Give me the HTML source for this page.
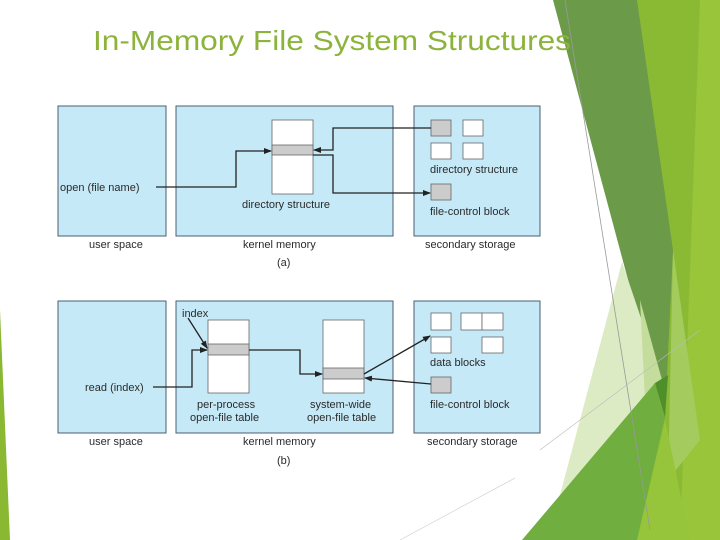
<!DOCTYPE html>
<html><head><meta charset="utf-8"><style>
html,body{margin:0;padding:0;background:#fff;width:720px;height:540px;overflow:hidden}
svg{display:block}
text{font-family:"Liberation Sans",sans-serif;fill:#2a2a2a}
</style></head><body>
<svg width="720" height="540" viewBox="0 0 720 540" xmlns="http://www.w3.org/2000/svg">
<defs><marker id="ah" markerWidth="8" markerHeight="8" refX="7" refY="4" orient="auto" markerUnits="userSpaceOnUse"><path d="M0,1 L8,4 L0,7 z" fill="#222"/></marker></defs>
<!-- background shapes -->
<polygon points="0,310 10,540 0,540" fill="#8ab833"/>
<polygon points="630,0 720,0 720,540 630,540" fill="#8aba34"/>
<polygon points="700,0 720,0 720,540 680,540" fill="#98c53a"/>
<polygon points="673,250 700,440 668,480" fill="#a3cb5e"/>
<polygon points="553,0 637,0 673,250 665,417 620,250" fill="#6b9a48"/>
<polygon points="622,262 662,380 556,510" fill="#dcebc4"/>
<polygon points="640,300 662,380 645,400" fill="#c5dd9c"/>
<polygon points="522,540 655,383 665,417 637,540" fill="#6fae3f"/>
<polygon points="655,383 668,375 665,417" fill="#4f8f2a"/>
<polygon points="637,540 665,420 690,540" fill="#96c43a"/>
<line x1="565" y1="0" x2="650" y2="530" stroke="#999" stroke-width="0.8"/>
<line x1="540" y1="450" x2="700" y2="330" stroke="#bbb" stroke-width="0.6"/>
<line x1="400" y1="540" x2="515" y2="478" stroke="#ccc" stroke-width="0.6"/>
<text x="93" y="50" font-size="28" textLength="478" lengthAdjust="spacingAndGlyphs" style="fill:#8cb43c">In-Memory File System Structures</text>
<g stroke="#4a6070" stroke-width="1" fill="#c6e9f8">
<rect x="58" y="106" width="108" height="130"/><rect x="176" y="106" width="217" height="130"/><rect x="414" y="106" width="126" height="130"/>
<rect x="58" y="301" width="108" height="132"/><rect x="176" y="301" width="217" height="132"/><rect x="414" y="301" width="126" height="132"/>
</g>
<g stroke="#666" stroke-width="0.8">
<rect x="272" y="120" width="41" height="74" fill="#fff"/><rect x="272" y="145" width="41" height="10" fill="#ccc"/>
<rect x="431" y="120" width="20" height="16" fill="#ccc"/><rect x="463" y="120" width="20" height="16" fill="#fff"/>
<rect x="431" y="143" width="20" height="16" fill="#fff"/><rect x="463" y="143" width="20" height="16" fill="#fff"/>
<rect x="431" y="184" width="20" height="16" fill="#ccc"/>
<rect x="208" y="320" width="41" height="73" fill="#fff"/><rect x="208" y="344" width="41" height="11" fill="#ccc"/>
<rect x="323" y="320" width="41" height="73" fill="#fff"/><rect x="323" y="368" width="41" height="11" fill="#ccc"/>
<rect x="431" y="313" width="20" height="17" fill="#fff"/><rect x="461" y="313" width="21" height="17" fill="#fff"/><rect x="482" y="313" width="21" height="17" fill="#fff"/>
<rect x="431" y="337" width="20" height="16" fill="#fff"/><rect x="482" y="337" width="21" height="16" fill="#fff"/>
<rect x="431" y="377" width="20" height="16" fill="#ccc"/>
</g>
<g stroke="#222" stroke-width="1.3" fill="none" marker-end="url(#ah)">
<polyline points="156,187 236,187 236,151 271,151"/>
<polyline points="431,128 333,128 333,150 314,150"/>
<polyline points="313,155 333,155 333,193 430,193"/>
<polyline points="153,387 192,387 192,350 207,350"/>
<polyline points="188,318 207,348"/>
<polyline points="249,350 300,350 300,374 322,374"/>
<polyline points="364,374 430,336"/>
<polyline points="431,384 365,378"/>
</g>
<g font-size="11">
<text x="60" y="191">open (file name)</text>
<text x="242" y="208">directory structure</text>
<text x="430" y="173">directory structure</text>
<text x="430" y="215">file-control block</text>
<text x="89" y="248">user space</text>
<text x="243" y="248">kernel memory</text>
<text x="425" y="248">secondary storage</text>
<text x="277" y="266">(a)</text>
<text x="182" y="317">index</text>
<text x="85" y="391">read (index)</text>
<text x="197" y="408">per-process</text>
<text x="190" y="421">open-file table</text>
<text x="310" y="408">system-wide</text>
<text x="307" y="421">open-file table</text>
<text x="430" y="366">data blocks</text>
<text x="430" y="408">file-control block</text>
<text x="89" y="445">user space</text>
<text x="243" y="445">kernel memory</text>
<text x="427" y="445">secondary storage</text>
<text x="277" y="464">(b)</text>
</g>
</svg>
</body></html>
